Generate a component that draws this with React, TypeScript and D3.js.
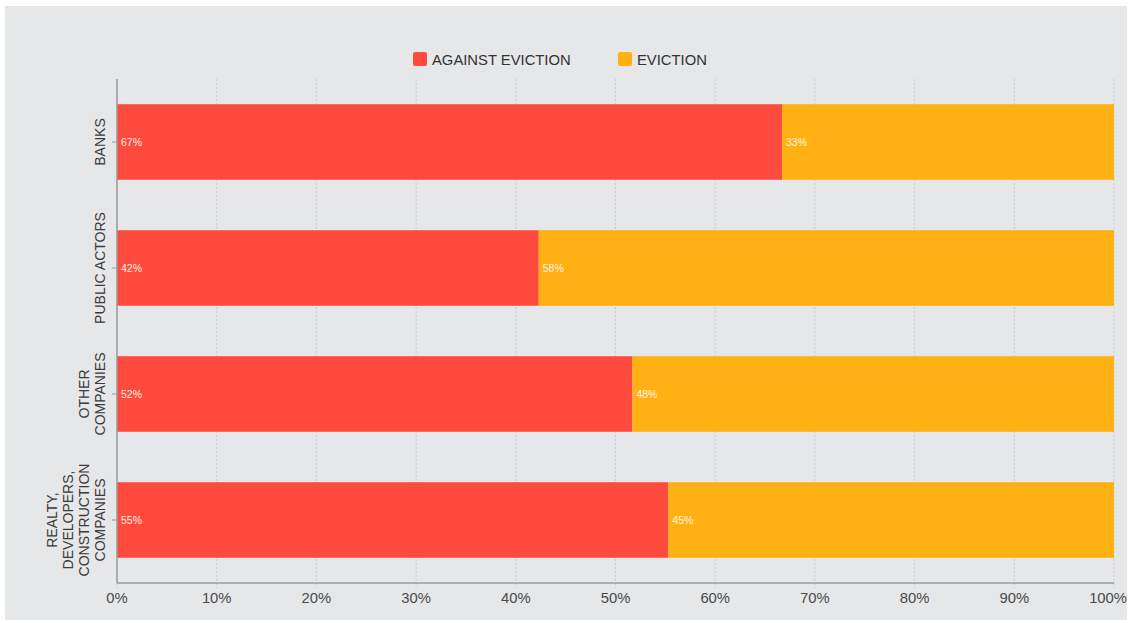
import React from "react";
import * as d3 from "d3";

const categories = ["BANKS", "PUBLIC ACTORS", "OTHER COMPANIES", "REALTY, DEVELOPERS, CONSTRUCTION COMPANIES"];
const categoryLines = [["BANKS"], ["PUBLIC ACTORS"], ["OTHER", "COMPANIES"], ["REALTY,", "DEVELOPERS,", "CONSTRUCTION", "COMPANIES"]];
const againstEviction = [66.7, 42.3, 51.7, 55.3];
const eviction = [33.3, 57.7, 48.3, 44.7];
const seriesNames = ["AGAINST EVICTION", "EVICTION"];
const seriesColors = ["#FF4B3E", "#FFB114"];
const xTicks = [0, 10, 20, 30, 40, 50, 60, 70, 80, 90, 100];

export default function App() {
  const W = 1130, H = 623;
  const left = 117, right = 1114, top = 79, bottom = 583;
  const x = d3.scaleLinear().domain([0, 100]).range([left, right]);
  const y = d3.scaleBand().domain(categories).range([top, bottom]).paddingInner(0.4).paddingOuter(0.2);
  const font = "'Liberation Sans', Arial, sans-serif";
  const fmt = (v: number) => `${d3.format(".0f")(v)}%`;
  return (
    <div style={{ position: "absolute", left: 0, top: 0 }}>
      <svg width={W} height={H} style={{ display: "block", fontFamily: font }}>
        <rect x={0} y={0} width={W} height={H} fill="#fff" />
        <rect x={5} y={6} width={1122} height={614} fill="#E6E7E9" />
        {/* legend */}
        {seriesNames.map((n, i) => {
          const lx = i === 0 ? 413 : 618;
          return (
            <g key={n}>
              <rect x={lx} y={52} width={14} height={14} rx={2} fill={seriesColors[i]} />
              <text x={lx + 19} y={64.5} fontSize={14.8} fill="#333">{n}</text>
            </g>
          );
        })}
        {/* grid */}
        {xTicks.map((t) => (
          <line key={t} x1={x(t)} x2={x(t)} y1={top} y2={bottom + 5} stroke="#C9CACC" strokeWidth={1} strokeDasharray="2,2" />
        ))}
        {/* bars */}
        {categories.map((c, i) => {
          const by = y(c)!;
          const bh = y.bandwidth();
          const a = againstEviction[i];
          const e = eviction[i];
          return (
            <g key={c}>
              <rect x={x(0)} y={by} width={x(a) - x(0)} height={bh} fill={seriesColors[0]} />
              <rect x={x(a)} y={by} width={x(a + e) - x(a)} height={bh} fill={seriesColors[1]} />
              <text x={x(0) + 4} y={by + bh / 2 + 3.5} fontSize={10.5} fill="#FFF2E8">{fmt(a)}</text>
              <text x={x(a) + 4} y={by + bh / 2 + 3.5} fontSize={10.5} fill="#FFF2E8">{fmt(e)}</text>
            </g>
          );
        })}
        {/* y axis */}
        <line x1={left} x2={left} y1={top} y2={bottom} stroke="#9A9A9A" strokeWidth={1.5} />
        {categories.map((c, i) => {
          const cy = y(c)! + y.bandwidth() / 2;
          const lines = categoryLines[i];
          const n = lines.length;
          return (
            <g key={c}>
              <line x1={left - 5} x2={left} y1={cy} y2={cy} stroke="#9A9A9A" />
              {lines.map((l, j) => {
                const lx = 100 - (n - 1 - j) * 16 + 4.5;
                return (
                  <text key={j} transform={`translate(${lx},${cy}) rotate(-90)`} textAnchor="middle" fontSize={14} fill="#3A3A3A">{l}</text>
                );
              })}
            </g>
          );
        })}
        {/* x axis */}
        <line x1={left} x2={right} y1={bottom} y2={bottom} stroke="#9A9A9A" strokeWidth={1.5} />
        {xTicks.map((t, i) => {
          const last = i === xTicks.length - 1;
          return (
            <text key={t} x={last ? 1127 : x(t)} y={603} textAnchor={last ? "end" : "middle"} fontSize={14.8} fill="#4A4A4A">{`${t}%`}</text>
          );
        })}
      </svg>
    </div>
  );
}
